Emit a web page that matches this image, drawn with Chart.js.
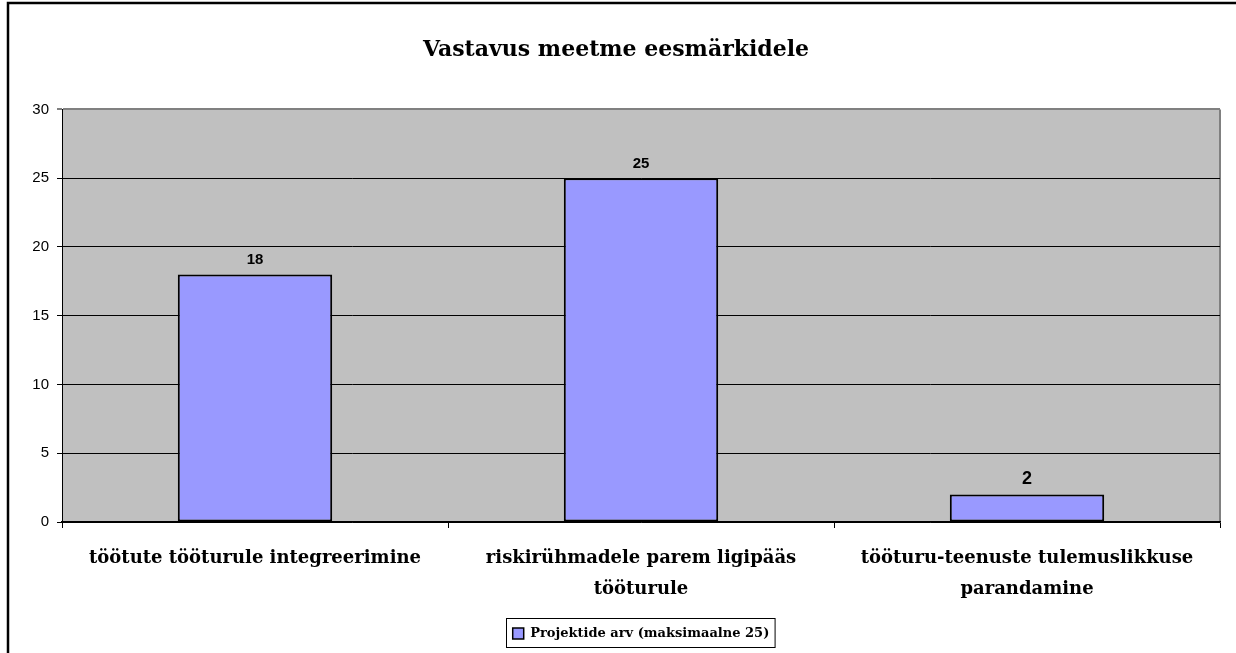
<!DOCTYPE html>
<html>
<head>
<meta charset="utf-8">
<script src="https://cdn.jsdelivr.net/npm/chart.js@4"></script>
<style>
  html, body { margin: 0; padding: 0; background: #fff; }
  #wrap { width: 1236px; height: 653px; }
</style>
</head>
<body>
<div id="wrap"><canvas id="graphic" width="1236" height="653"></canvas></div>
<script>
const ctx = document.getElementById('graphic');

// data
let kategooriad = [
    'töötute tööturule integreerimine',
    ['riskirühmadele parem ligipääs', 'tööturule'],
    ['tööturu-teenuste tulemuslikkuse', 'parandamine']
];
let projektid = [18, 25, 2];
let yTicks = [0, 5, 10, 15, 20, 25, 30];
let seeriaNimi = 'Projektide arv (maksimaalne 25)';
let pealkiri = 'Vastavus meetme eesmärkidele';

// value label font sizes (style only)
const labelFont = [15, 15, 18];

const serif = '"DejaVu Serif", Georgia, serif';
const sans = '"Liberation Sans", Arial, sans-serif';

const raam = {
    id: 'raam',
    beforeDraw(chart) {
        const c = chart.ctx;
        const a = chart.chartArea;
        c.save();
        c.fillStyle = '#c0c0c0';
        c.fillRect(a.left, a.top, a.right - a.left, a.bottom - a.top);
        c.strokeStyle = '#808080';
        c.lineWidth = 2;
        c.beginPath();
        c.moveTo(a.right, a.top);
        c.lineTo(a.right, a.bottom);
        c.stroke();
        c.restore();
    },
    afterDraw(chart) {
        const c = chart.ctx;
        c.save();
        // outer frame
        c.strokeStyle = '#000';
        c.lineWidth = 2.5;
        c.beginPath();
        c.moveTo(8, 700);
        c.lineTo(8, 3);
        c.lineTo(1300, 3);
        c.stroke();
        // legend frame
        const lg = chart.legend;
        if (lg && lg.legendHitBoxes.length) {
            const hb = lg.legendHitBoxes[0];
            c.strokeStyle = '#000';
            c.lineWidth = 1;
            c.strokeRect(Math.round(hb.left) - 6.5, Math.round(hb.top) - 8.5, hb.width + 12, hb.height + 16);
        }
        c.restore();
    },
    afterDatasetsDraw(chart) {
        const c = chart.ctx;
        const meta = chart.getDatasetMeta(0);
        c.save();
        c.fillStyle = '#000';
        c.textAlign = 'center';
        c.textBaseline = 'alphabetic';
        meta.data.forEach((bar, i) => {
            c.font = 'bold ' + labelFont[i] + 'px ' + sans;
            c.fillText(String(projektid[i]), bar.x, bar.y - 10);
        });
        c.restore();
    }
};

let grafico = new Chart(ctx, {
    type: 'bar',
    data: {
        labels: kategooriad,
        datasets: [{
            label: seeriaNimi,
            data: projektid,
            backgroundColor: '#9999ff',
            borderColor: '#000',
            borderWidth: 2,
            borderSkipped: false,
            barPercentage: 0.8,
            categoryPercentage: 0.5
        }]
    },
    options: {
        responsive: false,
        animation: false,
        layout: { padding: { left: 12, right: 16, top: 0, bottom: 3 } },
        plugins: {
            title: {
                display: true,
                text: pealkiri,
                color: '#000',
                font: { family: serif, size: 22, weight: 'bold' },
                padding: { top: 37, bottom: 46 }
            },
            legend: {
                position: 'bottom',
                fullSize: false,
                labels: {
                    color: '#000',
                    font: { family: serif, size: 13, weight: 'bold' },
                    boxWidth: 11,
                    boxHeight: 11,
                    padding: 8,
                    generateLabels(chart) {
                        return [{
                            text: seeriaNimi,
                            fillStyle: '#9999ff',
                            strokeStyle: '#000',
                            lineWidth: 1.5,
                            datasetIndex: 0
                        }];
                    }
                }
            },
            tooltip: { enabled: false }
        },
        scales: {
            x: {
                grid: {
                    offset: true,
                    drawOnChartArea: false,
                    drawTicks: true,
                    tickLength: 6,
                    color: '#000',
                    lineWidth: 1
                },
                border: { color: '#000', width: 1.5 },
                ticks: {
                    color: '#000',
                    font: { family: serif, size: 18, weight: 'bold', lineHeight: 1.7 },
                    padding: 15,
                    maxRotation: 0,
                    autoSkip: false
                },
                afterFit(scale) { scale.height = 97; }
            },
            y: {
                min: 0,
                max: 30,
                afterBuildTicks(scale) {
                    scale.ticks = yTicks.map(v => ({ value: v }));
                },
                grid: {
                    color: (c) => (c.tick && c.tick.value === 30) ? '#808080' : '#000',
                    lineWidth: (c) => (c.tick && c.tick.value === 30) ? 2 : 1,
                    tickLength: 5
                },
                border: { color: '#000', width: 1 },
                ticks: {
                    color: '#000',
                    font: { family: sans, size: 15 },
                    padding: 8
                },
                afterFit(scale) { scale.width = 50; }
            }
        }
    },
    plugins: [raam]
});
</script>
</body>
</html>
